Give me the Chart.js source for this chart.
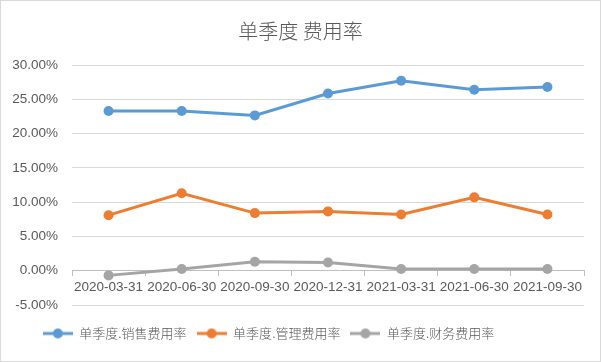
<!DOCTYPE html>
<html>
<head>
<meta charset="utf-8">
<script src="https://cdn.jsdelivr.net/npm/chart.js@4/dist/chart.umd.min.js"></script>
<style>
  html, body { margin: 0; padding: 0; background: #fff; }
  #wrap { position: relative; width: 599px; height: 360px; border: 1px solid #d9d9d9; }
</style>
</head>
<body>
<div id="wrap"><canvas id="myChart" width="599" height="360"></canvas></div>
<script>
var categories = ["2020-03-31", "2020-06-30", "2020-09-30", "2020-12-31", "2021-03-31", "2021-06-30", "2021-09-30"];
var salesRate = [23.3, 23.3, 22.65, 25.85, 27.7, 26.4, 26.8];
var adminRate = [8.1, 11.3, 8.4, 8.65, 8.2, 10.7, 8.2];
var financeRate = [-0.68, 0.25, 1.3, 1.2, 0.25, 0.25, 0.25];
var seriesNames = ["单季度.销售费用率", "单季度.管理费用率", "单季度.财务费用率"];
var colors = ["#5b9bd5", "#ed7d31", "#a5a5a5"];

function legendIcon(color) {
  var c = document.createElement("canvas");
  c.width = 30;
  c.height = 12;
  var g = c.getContext("2d");
  g.strokeStyle = color;
  g.lineWidth = 3;
  g.beginPath();
  g.moveTo(0, 6);
  g.lineTo(30, 6);
  g.stroke();
  g.fillStyle = color;
  g.beginPath();
  g.arc(15, 6, 5, 0, Math.PI * 2);
  g.fill();
  return c;
}
var icons = colors.map(legendIcon);

function makeSet(i, data) {
  return {
    label: seriesNames[i],
    data: data,
    borderColor: colors[i],
    backgroundColor: colors[i],
    borderWidth: 3,
    pointRadius: 5,
    pointHoverRadius: 5,
    pointBorderWidth: 0,
    tension: 0,
    fill: false
  };
}

// nudge title and legend sideways, like the excel layout
var shiftBlocks = {
  id: "shiftBlocks",
  afterLayout: function(chart) {
    if (chart.titleBlock) {
      chart.titleBlock.left += 8;
      chart.titleBlock.right += 8;
    }
    if (chart.legend) {
      chart.legend.left -= 24;
      chart.legend.right -= 24;
    }
  }
};

var textColor = "#595959";
var ctx = document.getElementById("myChart");
var chart = new Chart(ctx, {
  type: "line",
  data: {
    labels: categories,
    datasets: [makeSet(0, salesRate), makeSet(1, adminRate), makeSet(2, financeRate)]
  },
  plugins: [shiftBlocks],
  options: {
    responsive: false,
    animation: false,
    layout: { padding: { left: 0, right: 16, top: 0, bottom: 11 } },
    plugins: {
      title: {
        display: true,
        text: "单季度 费用率",
        color: textColor,
        font: { family: "Noto Sans CJK SC", size: 20, weight: 300 },
        padding: { top: 18, bottom: 22 }
      },
      legend: {
        position: "bottom",
        title: { display: true, text: " ", font: { size: 10 }, padding: 0 },
        labels: {
          color: textColor,
          font: { family: "Noto Sans CJK SC", size: 13, weight: 300 },
          usePointStyle: true,
          pointStyleWidth: 30,
          padding: 10,
          generateLabels: function(chart) {
            var items = Chart.defaults.plugins.legend.labels.generateLabels(chart);
            items.forEach(function(it, i) { it.pointStyle = icons[i]; });
            return items;
          }
        }
      },
      tooltip: { enabled: false }
    },
    scales: {
      x: {
        position: { y: 0 },
        offset: true,
        grid: {
          offset: true,
          drawOnChartArea: false,
          drawTicks: true,
          tickLength: 5,
          color: "#bfbfbf"
        },
        border: { display: true, color: "#bfbfbf", width: 1 },
        ticks: {
          color: textColor,
          font: { family: "Liberation Sans", size: 13.5 },
          maxRotation: 0,
          autoSkip: false,
          padding: 3
        }
      },
      y: {
        min: -5,
        max: 30,
        grid: { color: "#d9d9d9", drawTicks: false },
        border: { display: false },
        ticks: {
          stepSize: 5,
          color: textColor,
          font: { family: "Liberation Sans", size: 13.5 },
          padding: 14,
          callback: function(v) { return v.toFixed(2) + "%"; }
        },
        afterFit: function(axis) { axis.width = 71; }
      }
    }
  }
});
</script>
</body>
</html>
